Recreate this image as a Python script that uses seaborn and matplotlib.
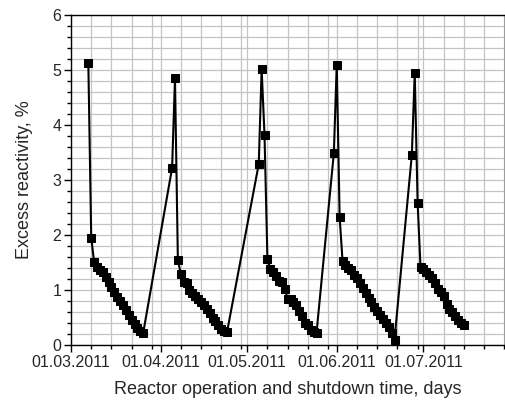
import numpy as np
import pandas as pd
import seaborn as sns
import matplotlib.pyplot as plt
import matplotlib.dates as mdates
from matplotlib.ticker import MultipleLocator

# Dane (5 cykli pracy reaktora)
dates_c1 = pd.date_range("2011-03-07", "2011-03-26", freq="D")
vals_c1 = [5.13, 1.95, 1.51, 1.42, 1.37, 1.32, 1.24, 1.14, 1.05, 0.96, 0.88, 0.80,
           0.72, 0.63, 0.54, 0.46, 0.38, 0.31, 0.26, 0.22]

dates_c2 = pd.date_range("2011-04-05", "2011-04-24", freq="D")
vals_c2 = [3.22, 4.85, 1.54, 1.30, 1.15, 1.13, 1.00, 0.95, 0.89, 0.84, 0.79, 0.73,
           0.66, 0.58, 0.50, 0.43, 0.36, 0.30, 0.26, 0.23]

dates_c3 = pd.date_range("2011-05-05", "2011-05-25", freq="D")
vals_c3 = [3.29, 5.01, 3.81, 1.56, 1.39, 1.32, 1.25, 1.17, 1.15, 1.02, 0.84, 0.83,
           0.78, 0.72, 0.61, 0.52, 0.40, 0.36, 0.27, 0.23, 0.22]

dates_c4 = pd.date_range("2011-05-31", "2011-06-21", freq="D")
vals_c4 = [3.49, 5.10, 2.33, 1.53, 1.45, 1.40, 1.36, 1.28, 1.22, 1.12, 1.03, 0.94,
           0.86, 0.78, 0.70, 0.62, 0.55, 0.48, 0.40, 0.32, 0.22, 0.10]

dates_c5 = pd.date_range("2011-06-27", "2011-07-15", freq="D")
vals_c5 = [3.46, 4.95, 2.58, 1.42, 1.38, 1.33, 1.28, 1.21, 1.12, 1.02, 0.96, 0.90,
           0.74, 0.66, 0.60, 0.53, 0.46, 0.40, 0.37]

df = pd.DataFrame({
    "date": list(dates_c1) + list(dates_c2) + list(dates_c3) + list(dates_c4) + list(dates_c5),
    "value": vals_c1 + vals_c2 + vals_c3 + vals_c4 + vals_c5,
})

sns.set_style("whitegrid")
plt.rcParams['font.family'] = ['Liberation Sans', 'DejaVu Sans']

fig = plt.figure(figsize=(5.06, 4.01), dpi=100)
ax = fig.add_axes([71 / 506, 1 - 345 / 401, (505 - 71) / 506, (345 - 15) / 401])

sns.lineplot(data=df, x="date", y="value", ax=ax, color="black", linewidth=1.5,
             marker="s", markersize=5.5, markeredgecolor="black", estimator=None, sort=False)

ax.set_xlim(pd.Timestamp("2011-03-01"), pd.Timestamp("2011-07-29 06:00"))
ax.set_ylim(0, 6)

ax.xaxis.set_major_locator(mdates.MonthLocator())
ax.xaxis.set_major_formatter(mdates.DateFormatter("%d.%m.%Y"))
ax.xaxis.set_minor_locator(mdates.DayLocator(bymonthday=[8, 15, 22, 29]))
ax.yaxis.set_major_locator(MultipleLocator(1))
ax.yaxis.set_minor_locator(MultipleLocator(0.2))

ax.grid(which="both", color="#c4c4c4", linewidth=0.9)
ax.set_axisbelow(True)
for s in ax.spines.values():
    s.set_color("black")
    s.set_linewidth(1.0)

ax.tick_params(which="major", direction="out", length=5, width=1, color="black",
               labelsize=11.5, bottom=True, left=True, pad=2)
ax.tick_params(which="minor", direction="out", length=3, width=1, color="black",
               bottom=True, left=True)

ax.set_xlabel("Reactor operation and shutdown time, days", fontsize=13, labelpad=8)
ax.set_ylabel("Excess reactivity, %", fontsize=13, labelpad=14)

fig.savefig("out.png", dpi=100)
